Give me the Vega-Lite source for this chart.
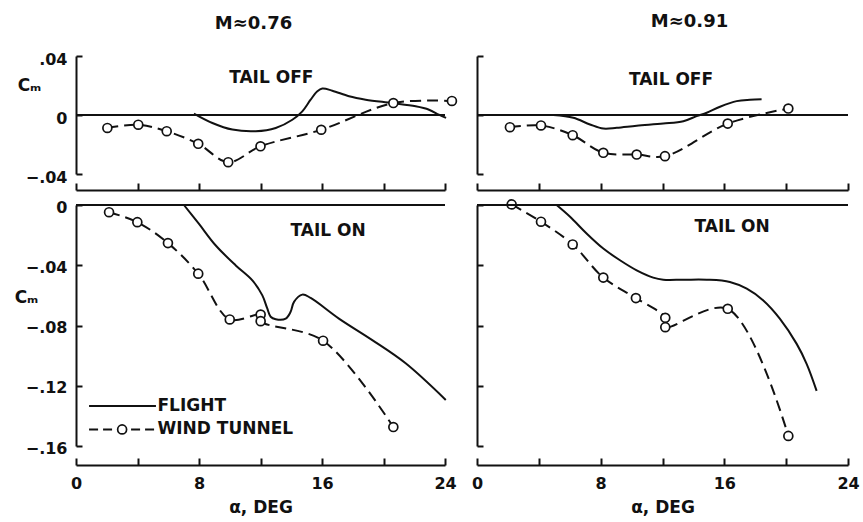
{
  "$schema": "https://vega.github.io/schema/vega-lite/v6.json",
  "padding": {"left": 14, "top": 13, "right": 5, "bottom": 5},
  "background": "white",
  "config": {
    "view": {"stroke": null},
    "font": "DejaVu Sans",
    "axis": {"grid": false, "labelFlush": false, "domainColor": "#111", "tickColor": "#111", "domainWidth": 2, "tickWidth": 2, "labelColor": "#111", "titleColor": "#111", "labelFont": "DejaVu Sans", "titleFont": "DejaVu Sans", "labelFontSize": 16, "labelFontWeight": "bold", "titleFontSize": 17, "titleFontWeight": "bold"},
    "title": {"fontSize": 18, "fontWeight": "bold", "color": "#111", "anchor": "middle", "font": "DejaVu Sans"},
    "text": {"font": "DejaVu Sans", "fontWeight": "bold", "fontSize": 17, "color": "#111"}
  },
  "datasets": {
    "lo_off": [
      {"src": "F", "alpha": 7.67, "cm": 0.001},
      {"src": "F", "alpha": 8.87, "cm": -0.0054},
      {"src": "F", "alpha": 10.17, "cm": -0.0099},
      {"src": "F", "alpha": 11.69, "cm": -0.011},
      {"src": "F", "alpha": 12.99, "cm": -0.0088},
      {"src": "F", "alpha": 14.07, "cm": -0.0032},
      {"src": "F", "alpha": 14.72, "cm": 0.0025},
      {"src": "F", "alpha": 15.26, "cm": 0.0104},
      {"src": "F", "alpha": 15.7, "cm": 0.0161},
      {"src": "F", "alpha": 16.02, "cm": 0.0179},
      {"src": "F", "alpha": 16.67, "cm": 0.0165},
      {"src": "F", "alpha": 17.76, "cm": 0.0127},
      {"src": "F", "alpha": 18.84, "cm": 0.0104},
      {"src": "F", "alpha": 20.57, "cm": 0.0081},
      {"src": "F", "alpha": 22.09, "cm": 0.0059},
      {"src": "F", "alpha": 22.96, "cm": 0.0036},
      {"src": "F", "alpha": 23.6, "cm": 0.0002},
      {"src": "F", "alpha": 24.07, "cm": -0.002},
      {"src": "W", "alpha": 2.04, "cm": -0.0088},
      {"src": "W", "alpha": 4.05, "cm": -0.0066},
      {"src": "W", "alpha": 5.9, "cm": -0.011},
      {"src": "W", "alpha": 7.95, "cm": -0.0195},
      {"src": "W", "alpha": 9.9, "cm": -0.032},
      {"src": "W", "alpha": 12.0, "cm": -0.0212},
      {"src": "W", "alpha": 15.95, "cm": -0.01},
      {"src": "W", "alpha": 20.64, "cm": 0.0081},
      {"src": "W", "alpha": 24.45, "cm": 0.0095}
    ],
    "hi_off": [
      {"src": "F", "alpha": 4.94, "cm": 0.0},
      {"src": "F", "alpha": 6.23, "cm": -0.0019},
      {"src": "F", "alpha": 7.31, "cm": -0.0064},
      {"src": "F", "alpha": 8.17, "cm": -0.0092},
      {"src": "F", "alpha": 9.04, "cm": -0.0087},
      {"src": "F", "alpha": 10.33, "cm": -0.0073},
      {"src": "F", "alpha": 12.05, "cm": -0.0058},
      {"src": "F", "alpha": 13.35, "cm": -0.0042},
      {"src": "F", "alpha": 14.21, "cm": -0.0008},
      {"src": "F", "alpha": 14.86, "cm": 0.0015},
      {"src": "F", "alpha": 15.72, "cm": 0.0056},
      {"src": "F", "alpha": 16.8, "cm": 0.0094},
      {"src": "F", "alpha": 17.66, "cm": 0.0103},
      {"src": "F", "alpha": 18.41, "cm": 0.0106},
      {"src": "W", "alpha": 2.13, "cm": -0.0083},
      {"src": "W", "alpha": 4.14, "cm": -0.0071},
      {"src": "W", "alpha": 6.19, "cm": -0.0137},
      {"src": "W", "alpha": 8.17, "cm": -0.0256},
      {"src": "W", "alpha": 10.33, "cm": -0.0268},
      {"src": "W", "alpha": 12.16, "cm": -0.0279},
      {"src": "W", "alpha": 16.22, "cm": -0.0058},
      {"src": "W", "alpha": 20.14, "cm": 0.0044}
    ],
    "lo_on": [
      {"src": "F", "alpha": 7.02, "cm": 0.0},
      {"src": "F", "alpha": 8.0, "cm": -0.0126},
      {"src": "F", "alpha": 9.09, "cm": -0.0269},
      {"src": "F", "alpha": 10.39, "cm": -0.0401},
      {"src": "F", "alpha": 11.47, "cm": -0.05},
      {"src": "F", "alpha": 12.12, "cm": -0.06},
      {"src": "F", "alpha": 12.44, "cm": -0.0687},
      {"src": "F", "alpha": 12.66, "cm": -0.0742},
      {"src": "F", "alpha": 12.99, "cm": -0.0758},
      {"src": "F", "alpha": 13.64, "cm": -0.0754},
      {"src": "F", "alpha": 13.96, "cm": -0.0709},
      {"src": "F", "alpha": 14.18, "cm": -0.0643},
      {"src": "F", "alpha": 14.72, "cm": -0.0595},
      {"src": "F", "alpha": 15.26, "cm": -0.0617},
      {"src": "F", "alpha": 17.1, "cm": -0.0754},
      {"src": "F", "alpha": 19.27, "cm": -0.0897},
      {"src": "F", "alpha": 21.44, "cm": -0.1051},
      {"src": "F", "alpha": 24.05, "cm": -0.1294},
      {"src": "W", "alpha": 2.15, "cm": -0.0048},
      {"src": "W", "alpha": 3.99, "cm": -0.0114},
      {"src": "W", "alpha": 5.98, "cm": -0.0253},
      {"src": "W", "alpha": 7.95, "cm": -0.0456},
      {"src": "W", "alpha": 10.0, "cm": -0.076},
      {"src": "W", "alpha": 12.01, "cm": -0.0727},
      {"src": "W", "alpha": 12.01, "cm": -0.0771},
      {"src": "W", "alpha": 16.07, "cm": -0.0901},
      {"src": "W", "alpha": 20.64, "cm": -0.1474}
    ],
    "hi_on": [
      {"src": "F", "alpha": 5.15, "cm": 0.0},
      {"src": "F", "alpha": 6.02, "cm": -0.0078},
      {"src": "F", "alpha": 7.09, "cm": -0.0189},
      {"src": "F", "alpha": 8.17, "cm": -0.0289},
      {"src": "F", "alpha": 9.25, "cm": -0.0367},
      {"src": "F", "alpha": 10.33, "cm": -0.0434},
      {"src": "F", "alpha": 11.4, "cm": -0.0482},
      {"src": "F", "alpha": 12.05, "cm": -0.0496},
      {"src": "F", "alpha": 13.35, "cm": -0.0496},
      {"src": "F", "alpha": 14.86, "cm": -0.0496},
      {"src": "F", "alpha": 16.36, "cm": -0.0511},
      {"src": "F", "alpha": 17.45, "cm": -0.0556},
      {"src": "F", "alpha": 18.52, "cm": -0.0634},
      {"src": "F", "alpha": 19.6, "cm": -0.0756},
      {"src": "F", "alpha": 20.68, "cm": -0.0922},
      {"src": "F", "alpha": 21.33, "cm": -0.1056},
      {"src": "F", "alpha": 21.97, "cm": -0.1234},
      {"src": "W", "alpha": 2.24, "cm": 0.0004},
      {"src": "W", "alpha": 4.14, "cm": -0.0111},
      {"src": "W", "alpha": 6.19, "cm": -0.0262},
      {"src": "W", "alpha": 8.17, "cm": -0.0482},
      {"src": "W", "alpha": 10.28, "cm": -0.0618},
      {"src": "W", "alpha": 12.18, "cm": -0.0749},
      {"src": "W", "alpha": 12.18, "cm": -0.0811},
      {"src": "W", "alpha": 16.22, "cm": -0.0689},
      {"src": "W", "alpha": 20.14, "cm": -0.1533}
    ]
  },
  "columns": 2,
  "align": "each",
  "spacing": {"row": 5, "column": 11},
  "concat": [
    {
      "width": 369, "height": 118,
      "title": {"text": "M≈0.76", "offset": 18, "dx": -7},
      "data": {"name": "lo_off"},
      "layer": [
        {"transform": [{"filter": "datum.src == 'F'"}],
         "mark": {"type": "line", "interpolate": "catmull-rom", "color": "#111", "strokeWidth": 2},
         "encoding": {
           "x": {"field": "alpha", "type": "quantitative", "scale": {"domain": [0, 24], "nice": false},
                 "axis": {"values": [0, 4, 8, 12, 16, 20, 24], "labels": false, "labelFlush": false, "title": null, "offset": 16, "tickSize": -7}},
           "y": {"field": "cm", "type": "quantitative", "scale": {"domain": [-0.04, 0.04], "nice": false, "zero": false},
                 "axis": {"values": [-0.04, 0, 0.04], "labelFlush": false, "labelOffset": 3, "labelExpr": "datum.value == 0 ? '0' : replace(format(datum.value, '.2f'), '0.', '.')", "tickSize": -6, "labelPadding": 15, "title": "Cₘ", "titleAngle": 0, "titleX": -47, "titleY": 29, "titleAlign": "center", "titleBaseline": "middle"}}
         }},
        {"transform": [{"filter": "datum.src == 'W'"}],
         "mark": {"type": "line", "interpolate": "catmull-rom", "color": "#111", "strokeWidth": 2, "strokeDash": [11, 6]},
         "encoding": {"x": {"field": "alpha", "type": "quantitative"}, "y": {"field": "cm", "type": "quantitative"}}},
        {"transform": [{"filter": "datum.src == 'W'"}],
         "mark": {"type": "point", "shape": "circle", "filled": true, "fill": "white", "stroke": "#111", "strokeWidth": 1.7, "size": 80, "opacity": 1},
         "encoding": {"x": {"field": "alpha", "type": "quantitative"}, "y": {"field": "cm", "type": "quantitative"}}},
        {"data": {"values": [{}]},
         "layer": [
           {"mark": {"type": "rule", "color": "#111", "strokeWidth": 2}, "encoding": {"y": {"datum": 0}}},
           {"mark": {"type": "text", "align": "center", "baseline": "middle"},
            "encoding": {"x": {"datum": 12.7}, "y": {"datum": 0.025}, "text": {"value": "TAIL OFF"}}}
         ]}
      ]
    },
    {
      "width": 371, "height": 118,
      "title": {"text": "M≈0.91", "offset": 24, "dx": 27},
      "data": {"name": "hi_off"},
      "layer": [
        {"transform": [{"filter": "datum.src == 'F'"}],
         "mark": {"type": "line", "interpolate": "catmull-rom", "color": "#111", "strokeWidth": 2},
         "encoding": {
           "x": {"field": "alpha", "type": "quantitative", "scale": {"domain": [0, 24], "nice": false},
                 "axis": {"values": [0, 4, 8, 12, 16, 20, 24], "labels": false, "labelFlush": false, "title": null, "offset": 16, "tickSize": -7}},
           "y": {"field": "cm", "type": "quantitative", "scale": {"domain": [-0.04, 0.04], "nice": false, "zero": false},
                 "axis": {"values": [-0.04, 0, 0.04], "labels": false, "labelFlush": false, "tickSize": -6, "title": null}}
         }},
        {"transform": [{"filter": "datum.src == 'W'"}],
         "mark": {"type": "line", "interpolate": "catmull-rom", "color": "#111", "strokeWidth": 2, "strokeDash": [11, 6]},
         "encoding": {"x": {"field": "alpha", "type": "quantitative"}, "y": {"field": "cm", "type": "quantitative"}}},
        {"transform": [{"filter": "datum.src == 'W'"}],
         "mark": {"type": "point", "shape": "circle", "filled": true, "fill": "white", "stroke": "#111", "strokeWidth": 1.7, "size": 80, "opacity": 1},
         "encoding": {"x": {"field": "alpha", "type": "quantitative"}, "y": {"field": "cm", "type": "quantitative"}}},
        {"data": {"values": [{}]},
         "layer": [
           {"mark": {"type": "rule", "color": "#111", "strokeWidth": 2}, "encoding": {"y": {"datum": 0}}},
           {"mark": {"type": "text", "align": "center", "baseline": "middle"},
            "encoding": {"x": {"datum": 12.55}, "y": {"datum": 0.024}, "text": {"value": "TAIL OFF"}}}
         ]}
      ]
    },
    {
      "width": 369, "height": 241,
      "data": {"name": "lo_on"},
      "layer": [
        {"transform": [{"filter": "datum.src == 'F'"}],
         "mark": {"type": "line", "interpolate": "catmull-rom", "color": "#111", "strokeWidth": 2},
         "encoding": {
           "x": {"field": "alpha", "type": "quantitative", "scale": {"domain": [0, 24], "nice": false},
                 "axis": {"values": [0, 4, 8, 12, 16, 20, 24], "labelFlush": false, "labelExpr": "datum.value % 8 === 0 ? datum.label : ''", "offset": 19, "tickSize": -7, "labelPadding": 17, "title": "α, DEG", "titleY": 42, "titleBaseline": "middle"}},
           "y": {"field": "cm", "type": "quantitative", "scale": {"domain": [-0.16, 0], "nice": false, "zero": false},
                 "axis": {"values": [-0.16, -0.12, -0.08, -0.04, 0], "labelFlush": false, "labelOffset": 2, "labelExpr": "datum.value == 0 ? '0' : replace(format(datum.value, '.2f'), '0.', '.')", "tickSize": -6, "labelPadding": 15, "title": "Cₘ", "titleAngle": 0, "titleX": -50, "titleY": 92, "titleAlign": "center", "titleBaseline": "middle"}}
         }},
        {"transform": [{"filter": "datum.src == 'W'"}],
         "mark": {"type": "line", "interpolate": "catmull-rom", "color": "#111", "strokeWidth": 2, "strokeDash": [11, 6]},
         "encoding": {"x": {"field": "alpha", "type": "quantitative"}, "y": {"field": "cm", "type": "quantitative"}}},
        {"transform": [{"filter": "datum.src == 'W'"}],
         "mark": {"type": "point", "shape": "circle", "filled": true, "fill": "white", "stroke": "#111", "strokeWidth": 1.7, "size": 80, "opacity": 1},
         "encoding": {"x": {"field": "alpha", "type": "quantitative"}, "y": {"field": "cm", "type": "quantitative"}}},
        {"data": {"values": [{}]},
         "layer": [
           {"mark": {"type": "rule", "color": "#111", "strokeWidth": 2}, "encoding": {"y": {"datum": 0}}},
           {"mark": {"type": "text", "align": "center", "baseline": "middle"},
            "encoding": {"x": {"datum": 16.4}, "y": {"datum": -0.0172}, "text": {"value": "TAIL ON"}}},
           {"mark": {"type": "rule", "color": "#111", "strokeWidth": 2},
            "encoding": {"x": {"datum": 0.85}, "x2": {"datum": 5.2}, "y": {"datum": -0.1335}}},
           {"mark": {"type": "rule", "color": "#111", "strokeWidth": 2, "strokeDash": [9, 5]},
            "encoding": {"x": {"datum": 0.85}, "x2": {"datum": 5.2}, "y": {"datum": -0.149}}},
           {"mark": {"type": "point", "shape": "circle", "filled": true, "fill": "white", "stroke": "#111", "strokeWidth": 1.7, "size": 80, "opacity": 1},
            "encoding": {"x": {"datum": 3.0}, "y": {"datum": -0.149}}},
           {"mark": {"type": "text", "align": "left", "baseline": "middle"},
            "encoding": {"x": {"datum": 5.3}, "y": {"datum": -0.1335}, "text": {"value": "FLIGHT"}}},
           {"mark": {"type": "text", "align": "left", "baseline": "middle"},
            "encoding": {"x": {"datum": 5.3}, "y": {"datum": -0.149}, "text": {"value": "WIND TUNNEL"}}}
         ]}
      ]
    },
    {
      "width": 371, "height": 241,
      "data": {"name": "hi_on"},
      "layer": [
        {"transform": [{"filter": "datum.src == 'F'"}],
         "mark": {"type": "line", "interpolate": "catmull-rom", "color": "#111", "strokeWidth": 2},
         "encoding": {
           "x": {"field": "alpha", "type": "quantitative", "scale": {"domain": [0, 24], "nice": false},
                 "axis": {"values": [0, 4, 8, 12, 16, 20, 24], "labelFlush": false, "labelExpr": "datum.value % 8 === 0 ? datum.label : ''", "offset": 19, "tickSize": -7, "labelPadding": 17, "title": "α, DEG", "titleY": 42, "titleBaseline": "middle"}},
           "y": {"field": "cm", "type": "quantitative", "scale": {"domain": [-0.16, 0], "nice": false, "zero": false},
                 "axis": {"values": [-0.16, -0.12, -0.08, -0.04, 0], "labels": false, "labelFlush": false, "tickSize": -6, "title": null}}
         }},
        {"transform": [{"filter": "datum.src == 'W'"}],
         "mark": {"type": "line", "interpolate": "catmull-rom", "color": "#111", "strokeWidth": 2, "strokeDash": [11, 6]},
         "encoding": {"x": {"field": "alpha", "type": "quantitative"}, "y": {"field": "cm", "type": "quantitative"}}},
        {"transform": [{"filter": "datum.src == 'W'"}],
         "mark": {"type": "point", "shape": "circle", "filled": true, "fill": "white", "stroke": "#111", "strokeWidth": 1.7, "size": 80, "opacity": 1},
         "encoding": {"x": {"field": "alpha", "type": "quantitative"}, "y": {"field": "cm", "type": "quantitative"}}},
        {"data": {"values": [{}]},
         "layer": [
           {"mark": {"type": "rule", "color": "#111", "strokeWidth": 2}, "encoding": {"y": {"datum": 0}}},
           {"mark": {"type": "text", "align": "center", "baseline": "middle"},
            "encoding": {"x": {"datum": 16.5}, "y": {"datum": -0.0145}, "text": {"value": "TAIL ON"}}}
         ]}
      ]
    }
  ]
}
